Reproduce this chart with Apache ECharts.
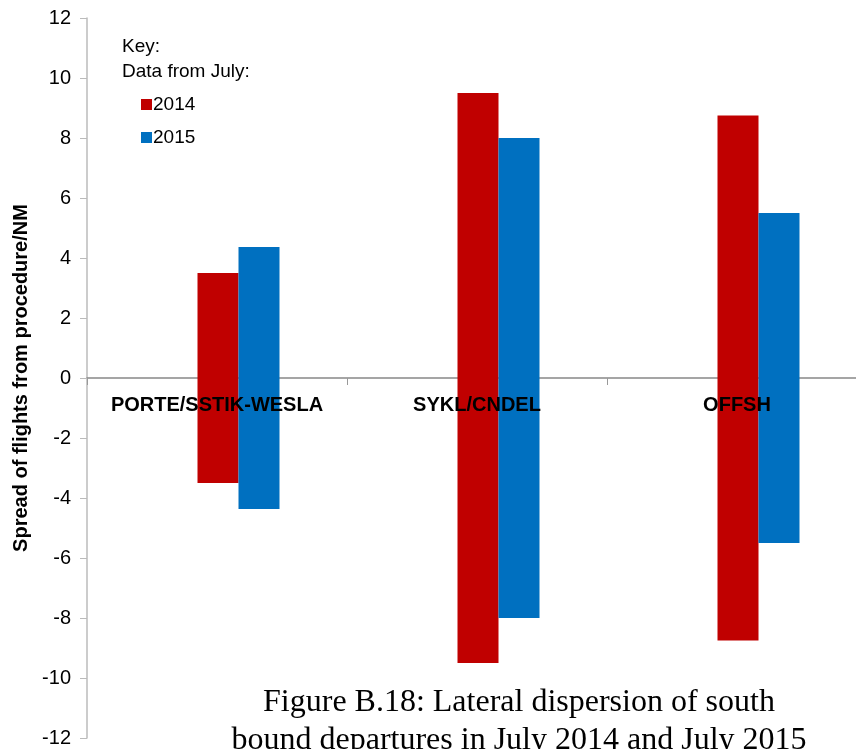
<!DOCTYPE html>
<html>
<head>
<meta charset="utf-8">
<script src="https://cdn.jsdelivr.net/npm/echarts@6/dist/echarts.min.js"></script>
<style>
    html, body { margin: 0; padding: 0; background: #fff; }
    #chart { width: 856px; height: 749px; }
</style>
</head>
<body>
<div id="chart"></div>
<script>
    // routes and half-spread (NM) either side of the procedure
    var categories = ['PORTE/SSTIK-WESLA', 'SYKL/CNDEL', 'OFFSH'];
    var spread2014 = [3.5, 9.5, 8.75];
    var spread2015 = [4.37, 8.0, 5.5];
    var yTicks = [-12, 12, 2];

    function neg(arr) {
        return arr.map(function(v) { return -v; });
    }

    var chart = echarts.init(document.getElementById('chart'));
    var labelFont = 'Arial, "Liberation Sans", sans-serif';

    // the first slot is empty in the original, which pushes the bars right of the label
    function barSeries(name, stack, data, color, width) {
        return {
            name: name,
            type: 'bar',
            stack: stack,
            barWidth: width || 41,
            barGap: '0%',
            itemStyle: { color: color },
            data: data
        };
    }

    var option = {
        backgroundColor: '#fff',
        animation: false,
        grid: {
            left: 87,
            top: 18,
            width: 780,
            height: 720,
            outerBoundsMode: 'none',
            containLabel: false
        },
        legend: {
            left: 136,
            top: 90,
            orient: 'vertical',
            itemWidth: 11,
            itemHeight: 11,
            itemGap: 14,
            icon: 'rect',
            data: ['2014', '2015'],
            textStyle: { fontSize: 19, fontFamily: labelFont, color: '#000', padding: [0, 0, 0, -4] }
        },
        graphic: [
            {
                type: 'text',
                left: 122,
                top: 34,
                style: {
                    text: 'Key:\nData from July:',
                    fontSize: 19,
                    lineHeight: 25,
                    fontFamily: labelFont,
                    fill: '#000'
                }
            },
            {
                type: 'text',
                x: 519,
                y: 684,
                style: {
                    text: 'Figure B.18: Lateral dispersion of south\nbound departures in July 2014 and July 2015',
                    align: 'center',
                    verticalAlign: 'top',
                    fontSize: 32,
                    lineHeight: 38,
                    fontFamily: '"Liberation Serif", "Times New Roman", serif',
                    fill: '#000'
                }
            }
        ],
        xAxis: [
            {
                // zero line and category ticks, under the bars
                type: 'category',
                data: categories,
                offset: -360,
                axisLine: { onZero: false, lineStyle: { color: '#888', width: 1.5 } },
                axisTick: { show: true, length: 7, lineStyle: { color: '#999' } },
                axisLabel: { show: false },
                splitLine: { show: false }
            },
            {
                // labels drawn on top of the bars
                type: 'category',
                data: categories,
                position: 'bottom',
                offset: -360,
                z: 10,
                axisLine: { show: false, onZero: false },
                axisTick: { show: false },
                axisLabel: {
                    interval: 0,
                    margin: 17,
                    fontSize: 20,
                    fontWeight: 'bold',
                    fontFamily: labelFont,
                    color: '#000'
                },
                splitLine: { show: false }
            }
        ],
        yAxis: {
            type: 'value',
            min: yTicks[0],
            max: yTicks[1],
            interval: yTicks[2],
            name: 'Spread of flights from procedure/NM',
            nameLocation: 'middle',
            nameGap: 53,
            nameTextStyle: {
                fontSize: 20,
                fontWeight: 'bold',
                fontFamily: labelFont,
                color: '#000'
            },
            axisLine: { show: true, lineStyle: { color: '#bbb', width: 1.5 } },
            axisTick: { show: true, length: 7, lineStyle: { color: '#bbb' } },
            axisLabel: {
                margin: 16,
                fontSize: 20,
                fontFamily: labelFont,
                color: '#000'
            },
            splitLine: { show: false }
        },
        series: [
            barSeries('blank', 'blank', ['-', '-', '-'], 'rgba(0,0,0,0)', 43),
            barSeries('2014', 'y2014', spread2014, '#C00000'),
            barSeries('2014', 'y2014', neg(spread2014), '#C00000'),
            barSeries('2015', 'y2015', spread2015, '#0070C0'),
            barSeries('2015', 'y2015', neg(spread2015), '#0070C0')
        ]
    };
    chart.setOption(option);
</script>
</body>
</html>
